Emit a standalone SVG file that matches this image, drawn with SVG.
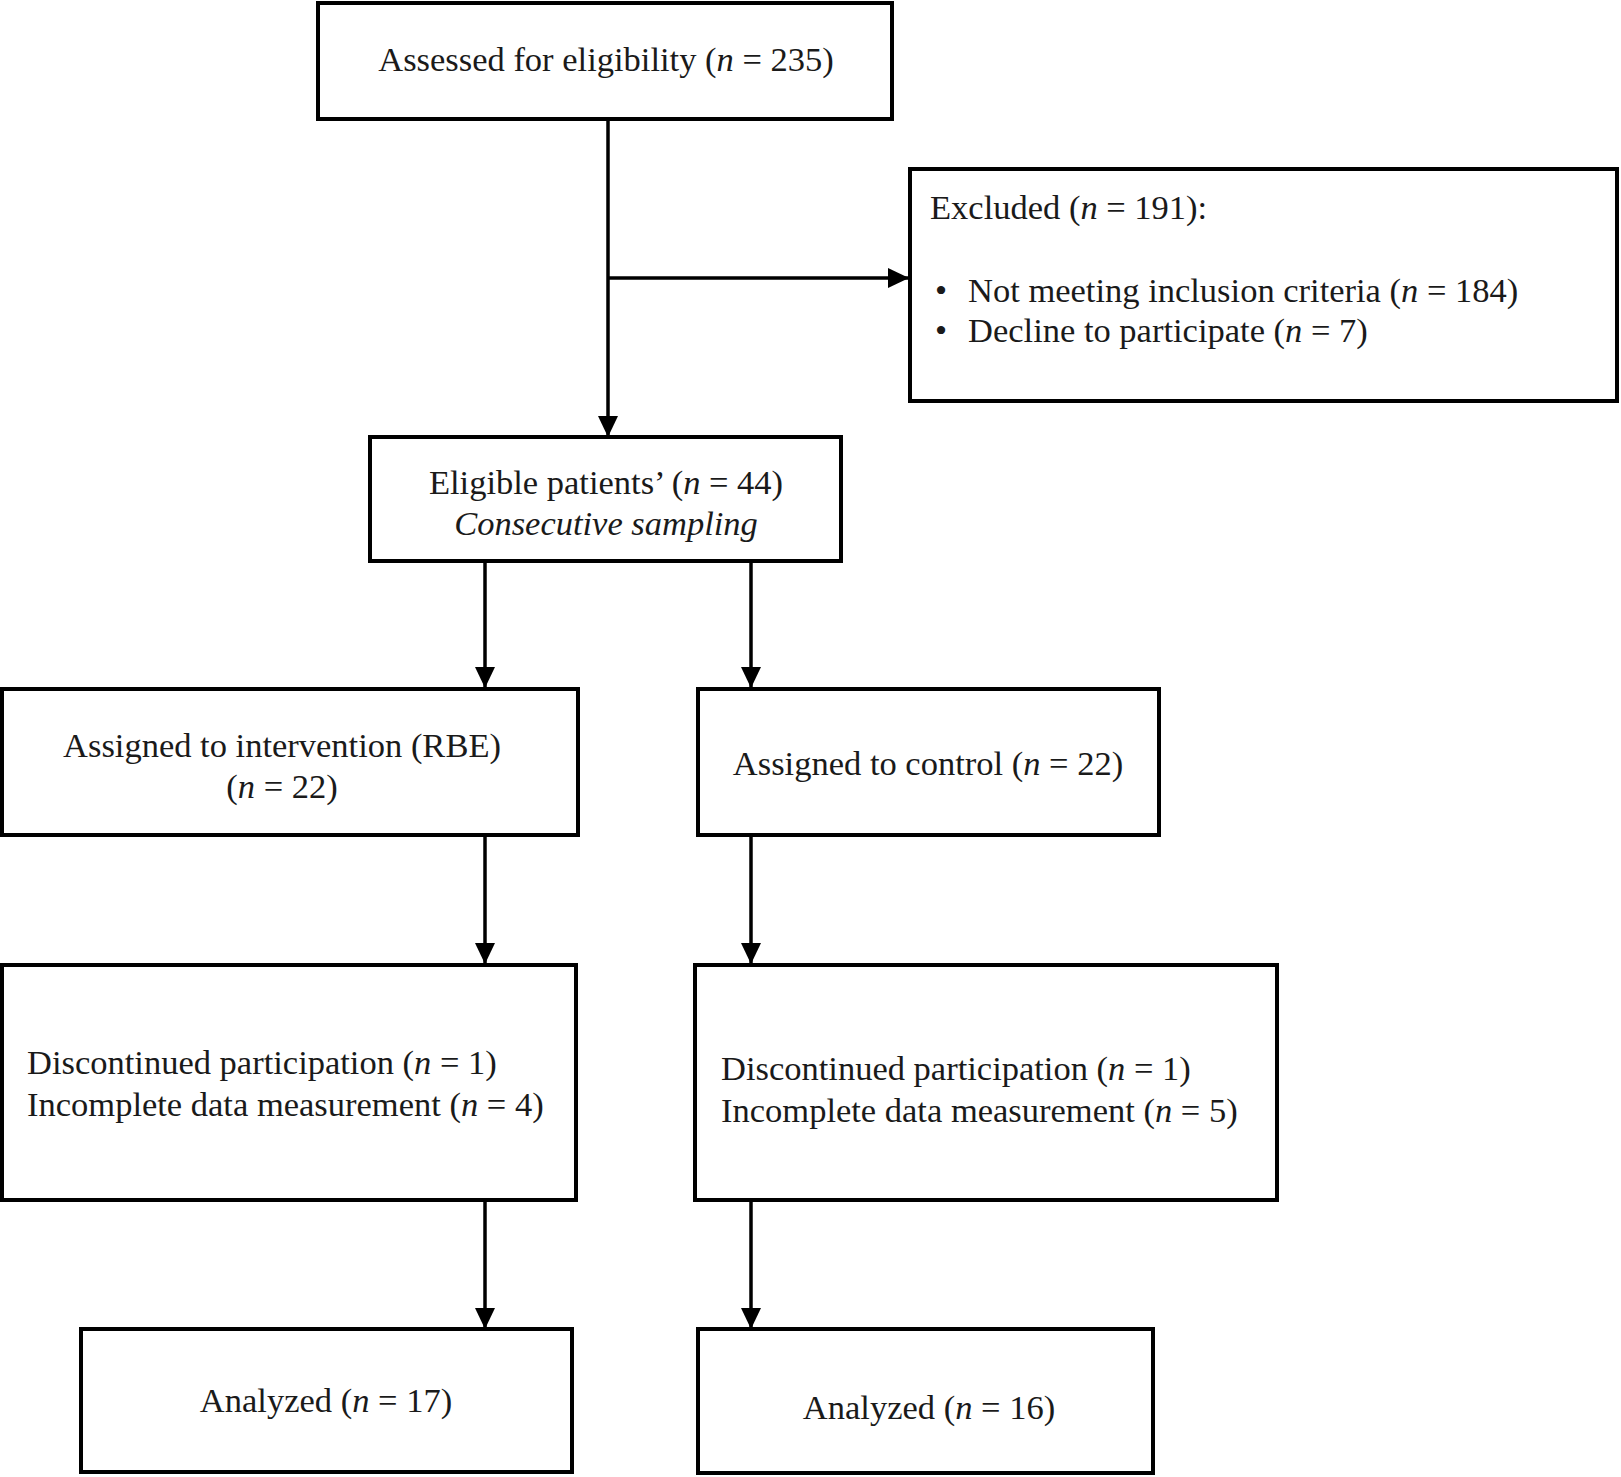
<svg xmlns="http://www.w3.org/2000/svg" width="1621" height="1477" viewBox="0 0 1621 1477">
<style>
.box{fill:#fff;stroke:#000;stroke-width:4}
.t{font-family:"Liberation Serif","Times New Roman",serif;font-size:34.5px;fill:#1a1a1a}
.c{text-anchor:middle}
.i{font-style:italic}
.ln{fill:none;stroke:#000;stroke-width:3.5}
</style>
<defs>
<marker id="ah" markerUnits="userSpaceOnUse" markerWidth="21" markerHeight="20" refX="21" refY="10" orient="auto" viewBox="0 0 21 20">
<path d="M0,0 L21,10 L0,20 z" fill="#000"/>
</marker>
</defs>
<rect width="1621" height="1477" fill="#fff"/>
<g id="connectors">
<line class="ln" x1="608" y1="119" x2="608" y2="437" marker-end="url(#ah)"/>
<line class="ln" x1="608" y1="278" x2="909" y2="278" marker-end="url(#ah)"/>
<line class="ln" x1="485" y1="561" x2="485" y2="688" marker-end="url(#ah)"/>
<line class="ln" x1="751" y1="561" x2="751" y2="688" marker-end="url(#ah)"/>
<line class="ln" x1="485" y1="835" x2="485" y2="964" marker-end="url(#ah)"/>
<line class="ln" x1="751" y1="835" x2="751" y2="964" marker-end="url(#ah)"/>
<line class="ln" x1="485" y1="1200" x2="485" y2="1329" marker-end="url(#ah)"/>
<line class="ln" x1="751" y1="1200" x2="751" y2="1329" marker-end="url(#ah)"/>
</g>
<g id="assessed">
<rect class="box" x="318" y="3" width="574" height="116"/>
<text class="t c" x="606" y="71">Assessed for eligibility (<tspan class="i">n</tspan> = 235)</text>
</g>
<g id="excluded">
<rect class="box" x="910" y="169" width="707" height="232"/>
<text class="t" x="930" y="219">Excluded (<tspan class="i">n</tspan> = 191):</text>
<text class="t" x="935" y="302">•</text>
<text class="t" x="968" y="302">Not meeting inclusion criteria (<tspan class="i">n</tspan> = 184)</text>
<text class="t" x="935" y="342">•</text>
<text class="t" x="968" y="342">Decline to participate (<tspan class="i">n</tspan> = 7)</text>
</g>
<g id="eligible">
<rect class="box" x="370" y="437" width="471" height="124"/>
<text class="t c" x="606" y="494">Eligible patients’ (<tspan class="i">n</tspan> = 44)</text>
<text class="t c i" x="606" y="535">Consecutive sampling</text>
</g>
<g id="intervention">
<rect class="box" x="2" y="689" width="576" height="146"/>
<text class="t c" x="282" y="757">Assigned to intervention (RBE)</text>
<text class="t c" x="282" y="798">(<tspan class="i">n</tspan> = 22)</text>
</g>
<g id="control">
<rect class="box" x="698" y="689" width="461" height="146"/>
<text class="t c" x="928" y="775">Assigned to control (<tspan class="i">n</tspan> = 22)</text>
</g>
<g id="int-loss">
<rect class="box" x="2" y="965" width="574" height="235"/>
<text class="t" x="27" y="1074">Discontinued participation (<tspan class="i">n</tspan> = 1)</text>
<text class="t" x="27" y="1116">Incomplete data measurement (<tspan class="i">n</tspan> = 4)</text>
</g>
<g id="ctrl-loss">
<rect class="box" x="695" y="965" width="582" height="235"/>
<text class="t" x="721" y="1080">Discontinued participation (<tspan class="i">n</tspan> = 1)</text>
<text class="t" x="721" y="1122">Incomplete data measurement (<tspan class="i">n</tspan> = 5)</text>
</g>
<g id="int-analyzed">
<rect class="box" x="81" y="1329" width="491" height="143"/>
<text class="t c" x="326" y="1412">Analyzed (<tspan class="i">n</tspan> = 17)</text>
</g>
<g id="ctrl-analyzed">
<rect class="box" x="698" y="1329" width="455" height="144"/>
<text class="t c" x="929" y="1419">Analyzed (<tspan class="i">n</tspan> = 16)</text>
</g>
</svg>
